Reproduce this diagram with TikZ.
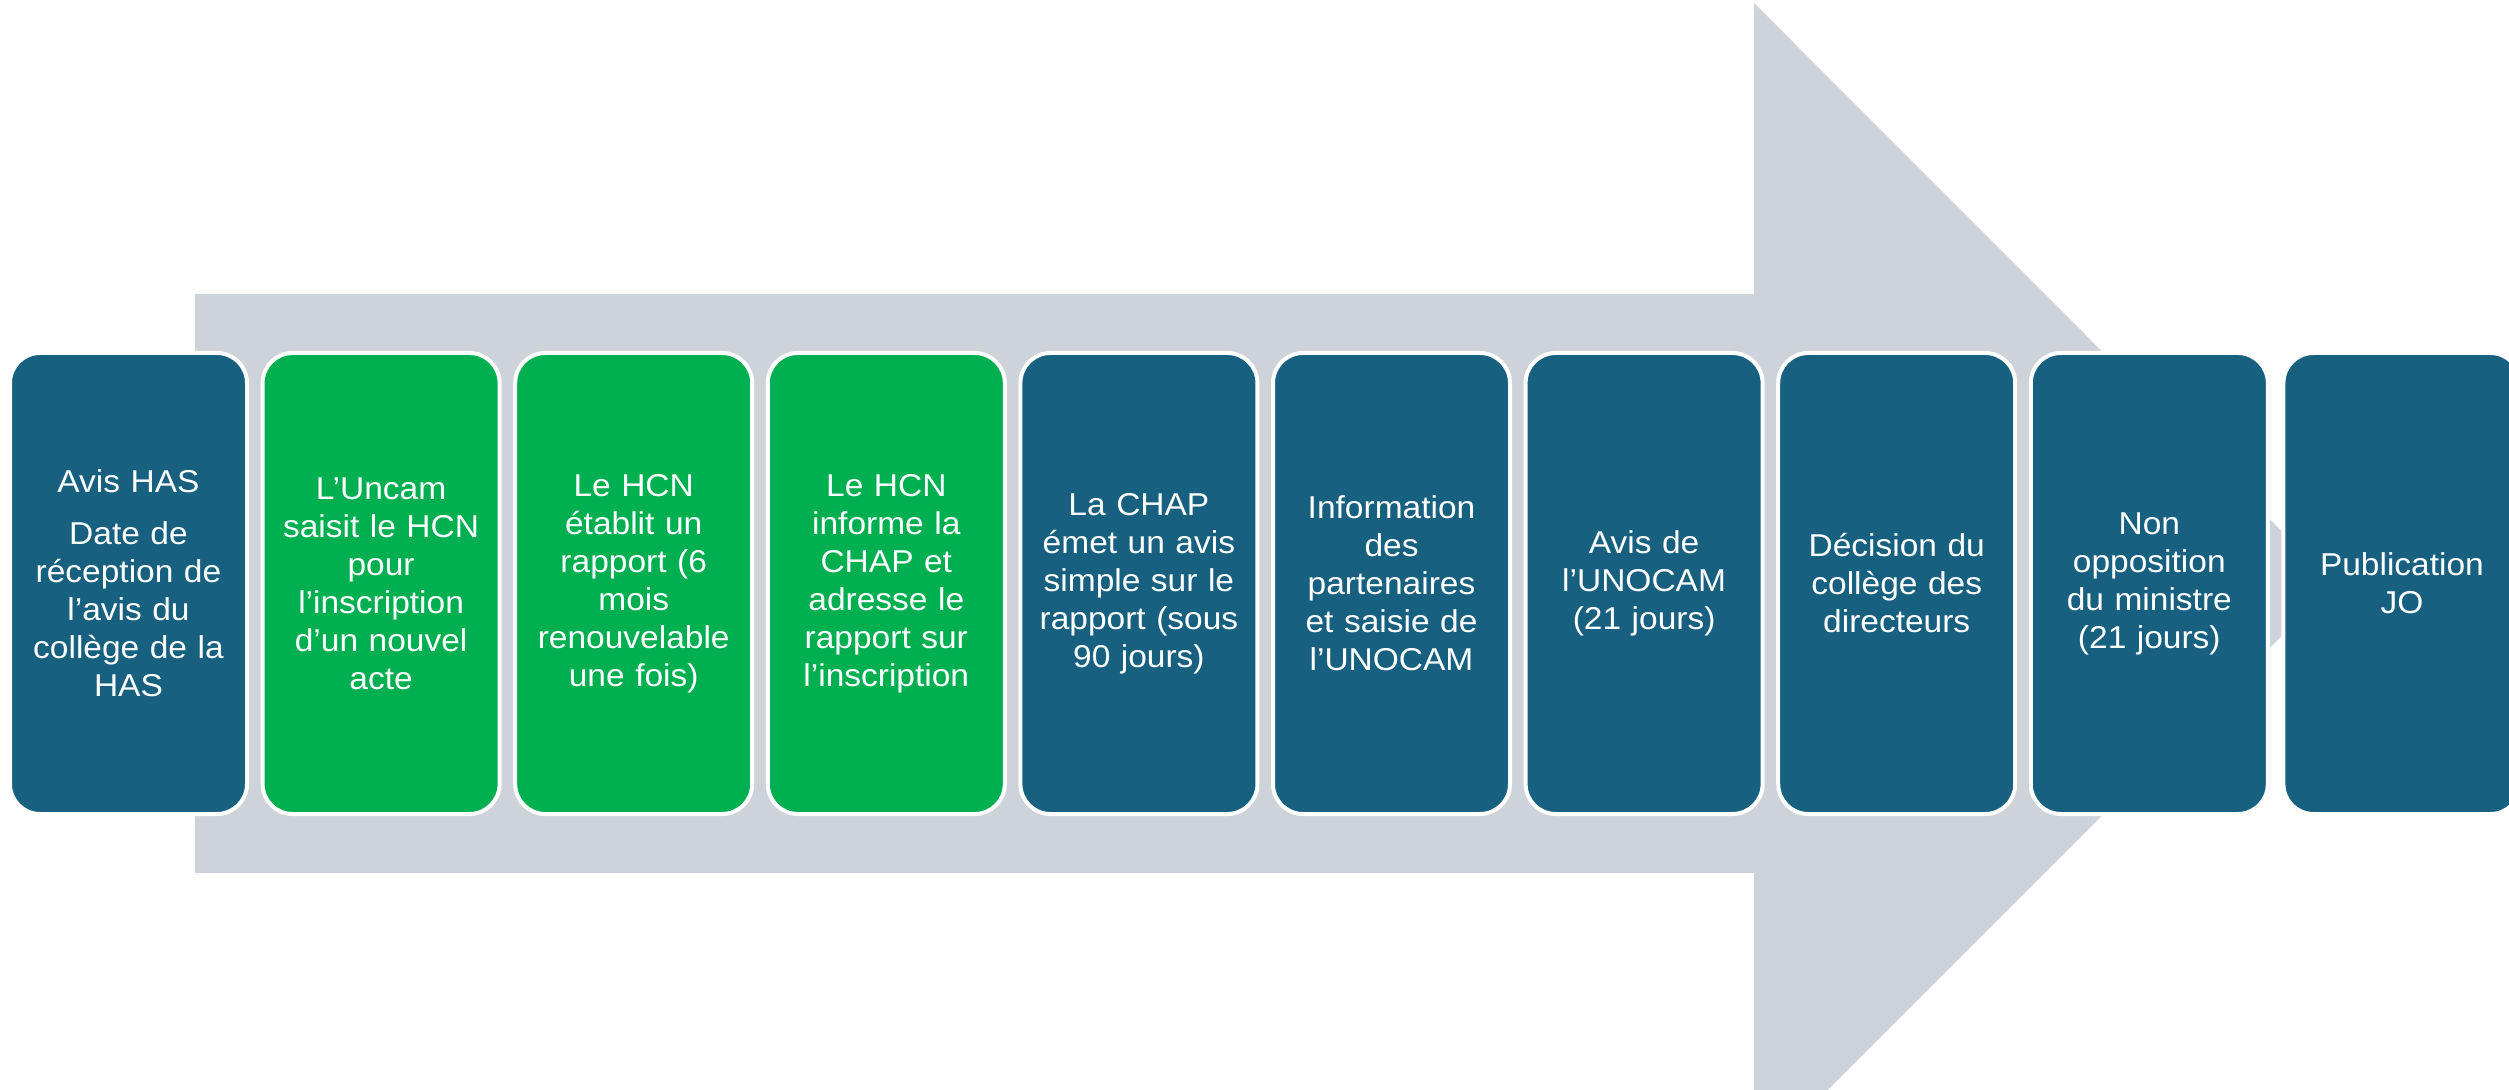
\documentclass[tikz,border=0pt]{standalone}
\usepackage{fontspec}
\setmainfont[FakeStretch=1.06]{Liberation Sans}
\definecolor{stepblue}{HTML}{17607F}
\definecolor{stepgreen}{HTML}{00AF50}
\definecolor{arrowgrey}{HTML}{CED3DA}
\tikzset{
  stepbox/.style={rounded corners=15pt, draw=white, line width=2pt,
    minimum width=118.5pt, minimum height=230.5pt, inner sep=0pt,
    text=white, align=center, text width=114pt,
    font=\fontsize{15.8pt}{19pt}\selectfont},
  bluebox/.style={stepbox, fill=stepblue},
  greenbox/.style={stepbox, fill=stepgreen},
}
\begin{document}
\begin{tikzpicture}[x=0.5pt,y=-0.5pt]
\useasboundingbox (0,0) rectangle (2509,1090);
\clip (0,0) rectangle (2509,1090);
\fill[arrowgrey] (195,294) -- (1754,294) -- (1754,3) -- (2334,583.5) -- (1754,1164) -- (1754,873) -- (195,873) -- cycle;
\node[bluebox] (b1) at (128.5,583.5) {Avis HAS\\[7pt]Date de\\réception de\\l’avis du\\collège de la\\HAS};
\node[greenbox] (b2) at (381.1,583.5) {L’Uncam\\saisit le HCN\\pour\\l’inscription\\d’un nouvel\\acte};
\node[greenbox] (b3) at (633.7,583.5) {Le HCN\\établit un\\rapport (6\\mois\\renouvelable\\une fois)};
\node[greenbox] (b4) at (886.3,583.5) {Le HCN\\informe la\\CHAP et\\adresse le\\rapport sur\\l’inscription};
\node[bluebox] (b5) at (1138.9,583.5) {La CHAP\\émet un avis\\simple sur le\\rapport (sous\\90 jours)};
\node[bluebox] (b6) at (1391.5,583.5) {Information\\des\\partenaires\\et saisie de\\l’UNOCAM};
\node[bluebox] (b7) at (1644.1,583.5) {Avis de\\l’UNOCAM\\(21 jours)};
\node[bluebox] (b8) at (1896.7,583.5) {Décision du\\collège des\\directeurs};
\node[bluebox] (b9) at (2149.3,583.5) {Non\\opposition\\du ministre\\(21 jours)};
\node[bluebox] (b10) at (2401.9,583.5) {Publication\\JO};
\end{tikzpicture}
\end{document}
